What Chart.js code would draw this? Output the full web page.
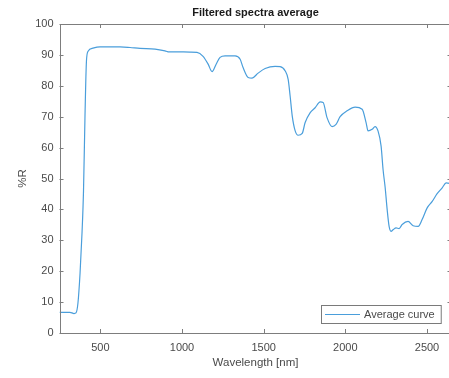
<!DOCTYPE html>
<html>
<head>
<meta charset="utf-8">
<script src="https://cdn.jsdelivr.net/npm/chart.js@4.4.1/dist/chart.umd.min.js"></script>
<style>
  html, body { margin: 0; padding: 0; background: #fff; overflow: hidden; }
  #wrap { width: 460px; height: 378px; }
</style>
</head>
<body>
<div id="wrap"><canvas id="spectra" width="460" height="378"></canvas></div>
<script>
// averaged reflectance spectrum, wavelength in nm, reflectance in %
const wavelength = [250, 314, 339, 351, 363, 376, 388, 397, 406, 415, 425, 455, 498, 621, 682, 743, 835, 896, 915, 957,
  1049, 1092, 1129, 1160, 1184, 1209, 1233, 1264, 1325, 1356, 1374, 1405, 1429, 1466, 1509, 1570, 1601, 1632, 1650,
  1662, 1675, 1693, 1711, 1736, 1754, 1785, 1815, 1846, 1864, 1888, 1919, 1943, 1968, 2011, 2060, 2103, 2127, 2139,
  2164, 2182, 2200, 2219, 2231, 2244, 2256, 2268, 2280, 2292, 2311, 2329, 2348, 2384, 2415, 2446, 2470, 2501, 2532,
  2562, 2593, 2617, 2650];
const reflectance = [6.7, 6.7, 6.3, 6.5, 9.7, 19.5, 32.5, 46, 70, 88, 91.2, 92.2, 92.6, 92.6, 92.4, 92.1, 91.9, 91.3, 91.0, 91.0,
  90.9, 90.8, 89.5, 87, 84.6, 87, 89.2, 89.7, 89.7, 88.6, 85.9, 82.7, 82.5, 84.1, 85.6, 86.3, 86.2, 84.8, 82.1,
  76.7, 70.2, 65.4, 64, 64.6, 68.1, 71.3, 72.9, 74.8, 74.6, 69.7, 66.8, 67.5, 70, 71.9, 73.1, 72.4, 68.1, 65.4,
  65.9, 66.8, 65.4, 60.5, 52.9, 47, 40, 34.5, 32.9, 33.4, 34, 33.8, 35.1, 36.1, 34.7, 34.5, 36.7, 40.5, 42.6,
  45.1, 47, 48.6, 48.3];
const xTicks = [500, 1000, 1500, 2000, 2500];
const yTicks = [0, 10, 20, 30, 40, 50, 60, 70, 80, 90, 100];

const axisColor = '#7d7d7d';
const textColor = '#4a4a4a';
const lineColor = '#4a9edb';
const font = 'Liberation Sans, Arial, Helvetica, sans-serif';

const points = wavelength.map((w, i) => ({ x: w, y: reflectance[i] }));

// box around the plot area with inward tick marks on all four sides
const boxAxes = {
  id: 'boxAxes',
  afterDraw(chart) {
    const { ctx, chartArea: a, scales } = chart;
    const len = 4;
    ctx.save();
    ctx.strokeStyle = axisColor;
    ctx.lineWidth = 1;
    ctx.strokeRect(Math.round(a.left) + 0.5, Math.round(a.top) + 0.5,
      Math.round(a.right - a.left), Math.round(a.bottom - a.top));
    ctx.beginPath();
    xTicks.forEach(v => {
      const px = Math.round(scales.x.getPixelForValue(v)) + 0.5;
      ctx.moveTo(px, a.bottom); ctx.lineTo(px, a.bottom - len);
      ctx.moveTo(px, a.top); ctx.lineTo(px, a.top + len);
    });
    yTicks.forEach(v => {
      const py = Math.round(scales.y.getPixelForValue(v)) + 0.5;
      ctx.moveTo(a.left, py); ctx.lineTo(a.left + len, py);
      ctx.moveTo(a.right, py); ctx.lineTo(a.right - len, py);
    });
    ctx.stroke();
    ctx.restore();
  }
};

// legend drawn inside the plot, lower right corner
const innerLegend = {
  id: 'innerLegend',
  afterDraw(chart) {
    const { ctx, chartArea: a } = chart;
    const label = chart.data.datasets[0].label;
    ctx.save();
    ctx.font = '11px ' + font;
    const tw = ctx.measureText(label).width;
    const w = tw + 49, h = 18;
    const x = Math.round(a.right - 10.5 - w), y = Math.round(a.bottom - 10 - h);
    ctx.fillStyle = '#fff';
    ctx.fillRect(x, y, w, h);
    ctx.strokeStyle = '#7a7a7a';
    ctx.lineWidth = 1;
    ctx.strokeRect(x + 0.5, y + 0.5, w, h);
    ctx.strokeStyle = lineColor;
    ctx.lineWidth = 1.2;
    ctx.beginPath();
    ctx.moveTo(x + 4, y + h / 2 + 0.5);
    ctx.lineTo(x + 39, y + h / 2 + 0.5);
    ctx.stroke();
    ctx.fillStyle = textColor;
    ctx.textBaseline = 'middle';
    ctx.fillText(label, x + 43, y + h / 2 + 1);
    ctx.restore();
  }
};

const ctx = document.getElementById('spectra').getContext('2d');
const spectraChart = new Chart(ctx, {
  type: 'line',
  data: {
    datasets: [{
      label: 'Average curve',
      data: points,
      borderColor: lineColor,
      borderWidth: 1.2,
      pointRadius: 0,
      fill: false,
      cubicInterpolationMode: 'monotone'
    }]
  },
  options: {
    responsive: false,
    animation: false,
    layout: { padding: { left: 0, right: 8.5, top: 0, bottom: 0 } },
    plugins: {
      legend: { display: false },
      tooltip: { enabled: false },
      title: {
        display: true,
        fullSize: false,
        text: 'Filtered spectra average',
        color: '#1a1a1a',
        font: { family: font, size: 11, weight: 'bold' },
        padding: { top: 6.4, bottom: 4.4 }
      }
    },
    scales: {
      x: {
        type: 'linear',
        min: 250,
        max: 2650,
        afterBuildTicks(scale) { scale.ticks = xTicks.map(v => ({ value: v })); },
        afterFit(scale) { scale.height = 45; },
        grid: { display: false, drawTicks: false },
        border: { display: false },
        ticks: {
          color: textColor,
          font: { family: font, size: 11 },
          padding: 8,
          maxRotation: 0,
          callback: v => String(v)
        },
        title: {
          display: true,
          text: 'Wavelength [nm]',
          color: textColor,
          font: { family: font, size: 11.5 },
          padding: { top: 0, bottom: 8.5 }
        }
      },
      y: {
        min: 0,
        max: 100,
        afterBuildTicks(scale) { scale.ticks = yTicks.map(v => ({ value: v })); },
        afterFit(scale) { scale.width = 59.5; },
        grid: { display: false, drawTicks: false },
        border: { display: false },
        ticks: {
          color: textColor,
          font: { family: font, size: 11 },
          padding: 6,
          callback: v => String(v)
        },
        title: {
          display: true,
          text: '%R',
          color: textColor,
          font: { family: font, size: 11.5 },
          padding: { top: 16, bottom: 0 }
        }
      }
    }
  },
  plugins: [boxAxes, innerLegend]
});
</script>
</body>
</html>
